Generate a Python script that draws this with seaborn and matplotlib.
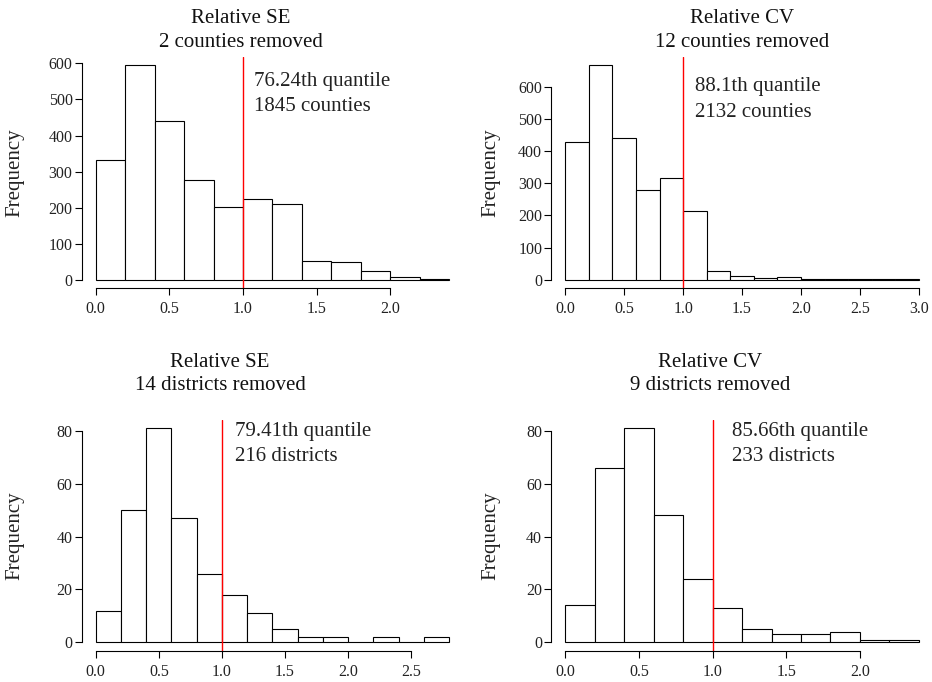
import numpy as np
import pandas as pd
import matplotlib
matplotlib.use("Agg")
import matplotlib.pyplot as plt
import seaborn as sns

sns.set_theme(style="white")
plt.rcParams['font.family'] = ['Liberation Serif', 'DejaVu Serif']

# ---- data (bin counts, bin width 0.2 starting at 0) ----
bin_width = 0.2
se_counties = [332, 595, 441, 276, 201, 224, 211, 52, 50, 25, 6, 2]
cv_counties = [430, 668, 440, 278, 316, 214, 28, 11, 4, 7, 2, 3, 1, 1, 1]
se_districts = [12, 50, 81, 47, 26, 18, 11, 5, 2, 2, 0, 2, 0, 2]
cv_districts = [14, 66, 81, 48, 24, 13, 5, 3, 3, 4, 1, 1]

titles = ["Relative SE\n2 counties removed", "Relative CV\n12 counties removed",
          "Relative SE\n14 districts removed", "Relative CV\n9 districts removed"]
notes = [("76.24th quantile", "1845 counties"), ("88.1th quantile", "2132 counties"),
         ("79.41th quantile", "216 districts"), ("85.66th quantile", "233 districts")]
xticks_list = [[0.0, 0.5, 1.0, 1.5, 2.0], [0.0, 0.5, 1.0, 1.5, 2.0, 2.5, 3.0],
               [0.0, 0.5, 1.0, 1.5, 2.0, 2.5], [0.0, 0.5, 1.0, 1.5, 2.0]]
yticks_list = [[0, 100, 200, 300, 400, 500, 600], [0, 100, 200, 300, 400, 500, 600],
               [0, 20, 40, 60, 80], [0, 20, 40, 60, 80]]
threshold = 1.0

series = [se_counties, cv_counties, se_districts, cv_districts]

W, H = 932, 682
fig = plt.figure(figsize=(W / 100, H / 100), dpi=100)

# layout in pixels: (left, top) of plot region
aw, ah = 381.7, 231.5
origins = [(81.6, 56.7), (551.2, 56.7), (81.6, 419.5), (551.2, 419.5)]
title_pos = [(241, 23, 47), (742, 23, 47), (220, 367, 390), (710, 367, 390)]
note_off = [(11, 29, 54), (12, 34, 60), (13, 16, 41), (19, 16, 41)]
ylab_x = [15, 491, 15, 491]
px = 0.72  # pixels -> points

for i, counts in enumerate(series):
    l, t = origins[i]
    ax = fig.add_axes([l / W, 1 - (t + ah) / H, aw / W, ah / H])
    n = len(counts)
    edges = [round(k * bin_width, 6) for k in range(n + 1)]
    centers = [(edges[k] + edges[k + 1]) / 2 for k in range(n)]
    df = pd.DataFrame({"x": centers, "w": [float(c) for c in counts]})
    sns.histplot(data=df, x="x", weights="w", bins=edges, ax=ax,
                 color="white", edgecolor="black", linewidth=0.8, alpha=1.0)
    lo, hi = 0.0, edges[-1]
    ax.set_xlim(lo - 0.04 * (hi - lo), hi + 0.04 * (hi - lo))
    ymax = max(counts)
    ax.set_ylim(-0.04 * ymax, ymax * 1.04)
    ax.axvline(threshold, color="red", lw=1.0)

    for s in ["top", "right"]:
        ax.spines[s].set_visible(False)
    for s in ["left", "bottom"]:
        ax.spines[s].set_visible(True)
        ax.spines[s].set_color("black")
        ax.spines[s].set_linewidth(0.8)
    xt = xticks_list[i]
    yt = yticks_list[i]
    ax.spines["bottom"].set_bounds(xt[0], xt[-1])
    ax.spines["left"].set_bounds(yt[0], yt[-1])
    ax.set_xticks(xt)
    ax.set_xticklabels([f"{v:.1f}" for v in xt])
    ax.set_yticks(yt)
    ax.set_yticklabels([str(v) for v in yt])
    ax.tick_params(axis="both", which="both", direction="out", length=5, width=0.8,
                   color="black", labelsize=11.5, labelcolor="#222222",
                   bottom=True, left=True)
    ax.tick_params(axis="x", pad=4)
    ax.tick_params(axis="y", pad=1.5)
    ax.set_xlabel("")
    ax.set_ylabel("")
    ax.grid(False)

    dx, b1, b2 = note_off[i]
    ax.annotate(notes[i][0], xy=(threshold, 1), xycoords=("data", "axes fraction"),
                xytext=(dx * px, -b1 * px), textcoords="offset points",
                ha="left", va="baseline", fontsize=15, color="#222222")
    ax.annotate(notes[i][1], xy=(threshold, 1), xycoords=("data", "axes fraction"),
                xytext=(dx * px, -b2 * px), textcoords="offset points",
                ha="left", va="baseline", fontsize=15, color="#222222")

    tx, y1, y2 = title_pos[i]
    line1, line2 = titles[i].split("\n")
    fig.text(tx / W, 1 - y1 / H, line1, ha="center", va="baseline", fontsize=15, color="#111111")
    fig.text(tx / W, 1 - y2 / H, line2, ha="center", va="baseline", fontsize=15, color="#111111")
    fig.text(ylab_x[i] / W, 1 - (t + ah / 2) / H, "Frequency", rotation=90,
             ha="center", va="center", fontsize=15, color="#222222")

fig.savefig("out.png", dpi=100)
